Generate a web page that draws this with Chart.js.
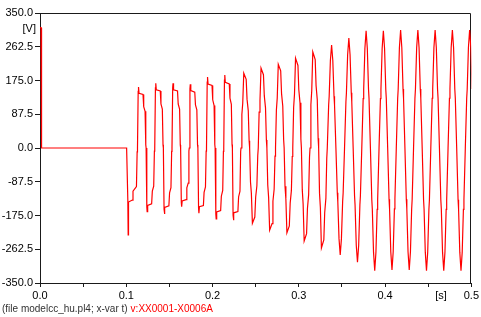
<!DOCTYPE html>
<html>
<head>
<meta charset="utf-8">
<script src="https://cdn.jsdelivr.net/npm/chart.js@4/dist/chart.umd.min.js"></script>
<style>
  html, body { margin: 0; padding: 0; background: #fff; }
</style>
</head>
<body>
<canvas id="c" width="481" height="317"></canvas>
<script>
// v:XX0001-X0006A (time in s, voltage in V), one row per 20 ms cycle
const timeS = [
  0.0000, 0.0012, 0.0018, 0.1004, 0.1018, 0.1022, 0.1026, 0.1070, 0.1078, 0.1118, 0.1126,
  0.1130, 0.1138, 0.1142, 0.1148, 0.1194, 0.1202, 0.1218, 0.1226, 0.1230, 0.1238, 0.1242, 0.1248, 0.1294, 0.1302, 0.1318, 0.1326,
  0.1330, 0.1338, 0.1342, 0.1348, 0.1394, 0.1402, 0.1418, 0.1426, 0.1430, 0.1438, 0.1442, 0.1448, 0.1494, 0.1502, 0.1518, 0.1526,
  0.1530, 0.1538, 0.1542, 0.1548, 0.1594, 0.1602, 0.1618, 0.1626, 0.1630, 0.1638, 0.1642, 0.1648, 0.1694, 0.1702, 0.1718, 0.1726,
  0.1730, 0.1738, 0.1742, 0.1748, 0.1794, 0.1802, 0.1818, 0.1826, 0.1830, 0.1838, 0.1842, 0.1848, 0.1894, 0.1902, 0.1918, 0.1926,
  0.1930, 0.1938, 0.1942, 0.1948, 0.1994, 0.2002, 0.2018, 0.2026, 0.2030, 0.2038, 0.2042, 0.2048, 0.2094, 0.2102, 0.2118, 0.2126,
  0.2130, 0.2138, 0.2142, 0.2148, 0.2194, 0.2202, 0.2218, 0.2226, 0.2230, 0.2238, 0.2242, 0.2248, 0.2294, 0.2302, 0.2318, 0.2326,
  0.2330, 0.2340, 0.2350, 0.2362, 0.2390, 0.2400, 0.2414, 0.2424, 0.2430, 0.2440, 0.2450, 0.2462, 0.2490, 0.2500, 0.2514, 0.2524,
  0.2530, 0.2540, 0.2550, 0.2562, 0.2590, 0.2600, 0.2614, 0.2624, 0.2630, 0.2640, 0.2650, 0.2662, 0.2690, 0.2700, 0.2714, 0.2724,
  0.2730, 0.2740, 0.2750, 0.2762, 0.2790, 0.2800, 0.2814, 0.2824, 0.2830, 0.2840, 0.2850, 0.2862, 0.2890, 0.2900, 0.2914, 0.2924,
  0.2930, 0.2940, 0.2950, 0.2962, 0.2990, 0.3000, 0.3014, 0.3024, 0.3030, 0.3040, 0.3050, 0.3062, 0.3090, 0.3100, 0.3114, 0.3124,
  0.3130, 0.3140, 0.3150, 0.3162, 0.3190, 0.3200, 0.3214, 0.3224, 0.3230, 0.3240, 0.3250, 0.3262, 0.3290, 0.3300, 0.3314, 0.3324,
  0.3330, 0.3346, 0.3352, 0.3366, 0.3380, 0.3394, 0.3408, 0.3414, 0.3430, 0.3446, 0.3452, 0.3466, 0.3480, 0.3494, 0.3508, 0.3514,
  0.3530, 0.3546, 0.3552, 0.3566, 0.3580, 0.3594, 0.3608, 0.3614, 0.3630, 0.3646, 0.3652, 0.3666, 0.3680, 0.3694, 0.3708, 0.3714,
  0.3730, 0.3746, 0.3752, 0.3766, 0.3780, 0.3794, 0.3808, 0.3814, 0.3830, 0.3846, 0.3852, 0.3866, 0.3880, 0.3894, 0.3908, 0.3914,
  0.3930, 0.3946, 0.3952, 0.3966, 0.3980, 0.3994, 0.4008, 0.4014, 0.4030, 0.4046, 0.4052, 0.4066, 0.4080, 0.4094, 0.4108, 0.4114,
  0.4130, 0.4146, 0.4152, 0.4166, 0.4180, 0.4194, 0.4208, 0.4214, 0.4230, 0.4246, 0.4252, 0.4266, 0.4280, 0.4294, 0.4308, 0.4314,
  0.4330, 0.4346, 0.4352, 0.4366, 0.4380, 0.4394, 0.4408, 0.4414, 0.4430, 0.4446, 0.4452, 0.4466, 0.4480, 0.4494, 0.4508, 0.4514,
  0.4530, 0.4546, 0.4552, 0.4566, 0.4580, 0.4594, 0.4608, 0.4614, 0.4630, 0.4646, 0.4652, 0.4666, 0.4680, 0.4694, 0.4708, 0.4714,
  0.4730, 0.4746, 0.4752, 0.4766, 0.4780, 0.4794, 0.4808, 0.4814, 0.4830, 0.4846, 0.4852, 0.4866, 0.4880, 0.4894, 0.4908, 0.4914,
  0.4930, 0.4946, 0.4952, 0.4966, 0.4980, 0.4994, 0.5008, 0.5014
];
const voltV = [
  312, 312, 0, 0, -135, -225, -140, -135, -112, -100, -10,
  0, 147, 158, 142, 139, 107, 95, 8, 0, -153, -165, -149, -145, -112, -99, -8,
  0, 156, 168, 151, 148, 114, 101, 8, 0, -159, -171, -154, -150, -116, -103, -9,
  0, 156, 168, 151, 148, 114, 101, 8, 0, -141, -152, -137, -134, -103, -91, -8,
  0, 153, 165, 149, 145, 112, 99, 8, 0, -157, -169, -152, -149, -115, -101, -8,
  0, 171, 184, 166, 162, 125, 110, 9, 0, -171, -184, -166, -162, -125, -110, -9,
  0, 176, 189, 170, 166, 129, 113, 9, 0, -174, -187, -168, -165, -127, -112, -9,
  0, 87, 116, 194, 178, 126, 97, 19, 0, -88, -117, -195, -179, -127, -98, -20,
  0, 93, 124, 207, 190, 135, 104, 21, 0, -96, -128, -213, -196, -138, -107, -21,
  0, 98, 130, 217, 200, 141, 109, 22, 0, -99, -132, -220, -202, -143, -110, -22,
  0, 105, 140, 233, 214, 151, 117, 23, 0, -108, -145, -241, -222, -157, -121, -24,
  0, 112, 149, 249, 229, 162, 125, 25, 0, -117, -155, -259, -238, -168, -130, -26,
  0, 112, 134, 227, 267, 227, 134, 112, 0, -116, -139, -235, -277, -235, -139, -116,
  0, 120, 143, 242, 285, 242, 143, 120, 0, -124, -148, -252, -296, -252, -148, -124,
  0, 128, 152, 258, 304, 258, 152, 128, 0, -134, -159, -270, -318, -270, -159, -134,
  0, 128, 152, 258, 304, 258, 152, 128, 0, -133, -158, -269, -316, -269, -158, -133,
  0, 129, 153, 260, 306, 260, 153, 129, 0, -133, -158, -269, -316, -269, -158, -133,
  0, 129, 153, 260, 306, 260, 153, 129, 0, -134, -159, -270, -318, -270, -159, -134,
  0, 129, 153, 260, 306, 260, 153, 129, 0, -134, -159, -270, -318, -270, -159, -134,
  0, 129, 153, 260, 306, 260, 153, 129, 0, -134, -159, -270, -318, -270, -159, -134,
  0, 129, 153, 260, 306, 260, 153, 129
];
const xLabelled = [0, 0.1, 0.2, 0.3, 0.4, 0.5];
const yLimits = [-350, 350];
const xLimits = [0, 0.5];

const FONT = "'Liberation Sans', Arial, sans-serif";

// top and right edges of the frame under the trace, then unit labels and the footer line on top
const extras = {
  id: 'extras',
  beforeDatasetsDraw(chart) {
    const { ctx, chartArea: a } = chart;
    const t = Math.round(a.top) + 0.5, r = Math.round(a.right) - 0.5;
    ctx.save();
    ctx.strokeStyle = '#1a1a1a';
    ctx.lineWidth = 1;
    ctx.beginPath();
    ctx.moveTo(a.left, t);
    ctx.lineTo(r, t);
    ctx.lineTo(r, a.bottom);
    ctx.stroke();
    ctx.restore();
  },
  afterDraw(chart) {
    const { ctx } = chart;
    ctx.save();
    ctx.fillStyle = '#000';
    ctx.font = '11px ' + FONT;
    ctx.textBaseline = 'middle';
    ctx.textAlign = 'right';
    ctx.fillText('[V]', 36, 29);
    ctx.textAlign = 'center';
    ctx.fillText('[s]', 441, 296);
    ctx.font = '10px ' + FONT;
    ctx.textAlign = 'left';
    ctx.fillStyle = '#333';
    const cap = '(file modelcc_hu.pl4; x-var t)';
    ctx.fillText(cap, 2, 309);
    ctx.fillStyle = '#ff0000';
    ctx.fillText('v:XX0001-X0006A', 2 + ctx.measureText(cap).width + 3, 309);
    ctx.restore();
  }
};

new Chart(document.getElementById('c').getContext('2d'), {
  type: 'line',
  data: {
    datasets: [{
      data: timeS.map((t, i) => ({ x: t, y: voltV[i] })),
      borderColor: '#ff0000',
      borderWidth: 1.2,
      pointRadius: 0,
      tension: 0,
      clip: { left: 2, top: 1, right: 0, bottom: 1 },
    }],
  },
  options: {
    responsive: false,
    animation: false,
    devicePixelRatio: 1,
    layout: { padding: { left: 0, right: 9, top: 13, bottom: 0 } },
    plugins: { legend: { display: false }, tooltip: { enabled: false } },
    scales: {
      x: {
        type: 'linear',
        min: xLimits[0], max: xLimits[1],
        afterFit: (s) => { s.height = 34; },
        grid: { drawOnChartArea: false, tickLength: 4, color: '#1a1a1a' },
        border: { color: '#1a1a1a' },
        ticks: {
          stepSize: 0.05, autoSkip: false, maxRotation: 0, padding: 2,
          color: '#000', font: { family: FONT, size: 11 },
          callback: (v) => xLabelled.some(l => Math.abs(l - v) < 1e-6) ? v.toFixed(1) : '',
        },
      },
      y: {
        min: yLimits[0], max: yLimits[1],
        afterFit: (s) => { s.width = 40; },
        grid: { drawOnChartArea: false, tickLength: 5, color: '#1a1a1a' },
        border: { color: '#1a1a1a' },
        ticks: {
          stepSize: 87.5, autoSkip: false, padding: 2,
          color: '#000', font: { family: FONT, size: 11 },
          callback: (v) => v.toFixed(1),
        },
      },
    },
  },
  plugins: [extras],
});
</script>
</body>
</html>
